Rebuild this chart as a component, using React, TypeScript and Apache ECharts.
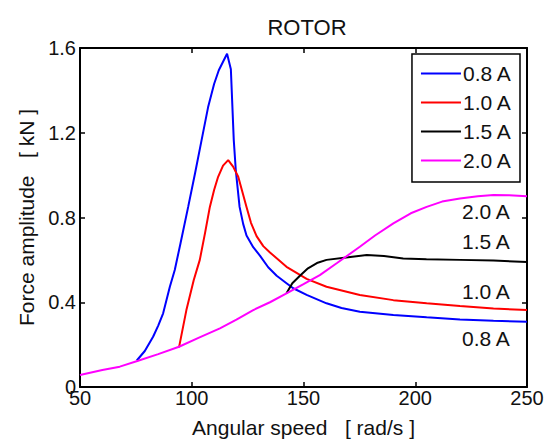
import React, { useEffect, useRef } from "react";
import * as echarts from "echarts";

const seriesNames = ["0.8 A", "1.0 A", "1.5 A", "2.0 A"];
const seriesColors = ["#0000ff", "#ff0000", "#000000", "#ff00ff"];

const blue08: number[][] = [
  [75.4, 0.125], [79, 0.17], [82.7, 0.237], [85, 0.29], [87.2, 0.348], [90.2, 0.473],
  [92.4, 0.552], [95, 0.68], [98.4, 0.85], [101.5, 1.01], [104.4, 1.165], [107.3, 1.32],
  [110, 1.43], [112.1, 1.495], [114, 1.535], [115.8, 1.573], [117.5, 1.5], [118.8, 1.165],
  [119.7, 1.024], [121.4, 0.85], [123, 0.77], [124.5, 0.715], [127.5, 0.66], [130.5, 0.62],
  [134.2, 0.565], [138, 0.525], [142.4, 0.49], [145.4, 0.466], [151.4, 0.435], [160.3, 0.395],
  [167, 0.373], [175.2, 0.355], [190.2, 0.34], [205.1, 0.329], [220, 0.319], [235, 0.313],
  [250, 0.308],
];

const red10: number[][] = [
  [94.3, 0.187], [97.6, 0.363], [100.9, 0.505], [103.6, 0.6], [106, 0.73], [108.1, 0.85],
  [110, 0.93], [111.8, 0.992], [114, 1.045], [116.3, 1.071], [118.5, 1.04], [120.8, 0.992],
  [124.5, 0.85], [126.5, 0.775], [129, 0.712], [132, 0.665], [135, 0.635], [142.4, 0.567],
  [145.4, 0.548], [151.4, 0.51], [160.3, 0.473], [175.2, 0.434], [190.2, 0.41], [205.1, 0.395],
  [220, 0.382], [235, 0.371], [250, 0.363],
];

const black15: number[][] = [
  [142.4, 0.442], [145, 0.49], [148.4, 0.525], [152, 0.56], [156, 0.585], [160.3, 0.6],
  [170, 0.612], [178.3, 0.623], [186, 0.618], [194.6, 0.607], [205, 0.603], [220, 0.6],
  [235, 0.597], [250, 0.59],
];

const magenta20: number[][] = [
  [50, 0.057], [60, 0.08], [67.8, 0.096], [76, 0.124], [85, 0.155], [94.3, 0.19],
  [103, 0.232], [112.6, 0.277], [120, 0.318], [127.5, 0.363], [135, 0.4], [142.4, 0.442],
  [150, 0.485], [157.3, 0.528], [165, 0.585], [175.2, 0.662], [182, 0.715], [190.2, 0.772],
  [198, 0.82], [205.1, 0.85], [212, 0.875], [220, 0.89], [228, 0.9], [235, 0.906],
  [242, 0.905], [250, 0.9],
];

const seriesData = [blue08, red10, black15, magenta20];

const xTicks = { min: 50, max: 250, interval: 50 };
const yTicks = { min: 0, max: 1.6, interval: 0.4 };

const annotations = ["2.0 A", "1.5 A", "1.0 A", "0.8 A"];
const annotationY = [212, 242, 292, 339];

const FONT = "'Liberation Sans', Arial, Helvetica, sans-serif";

export default function App() {
  const ref = useRef<HTMLDivElement>(null);
  useEffect(() => {
    document.body.style.margin = "0";
    if (!ref.current) return;
    const chart = echarts.init(ref.current, undefined, { renderer: "svg" });
    const axisCommon = {
      axisLine: { show: true, onZero: false, lineStyle: { color: "#000", width: 2 } },
      axisTick: { show: true, inside: true, length: 5, lineStyle: { color: "#000", width: 1.5 } },
      splitLine: { show: false },
    };
    chart.setOption({
      animation: false,
      backgroundColor: "#fff",
      textStyle: { fontFamily: FONT },
      title: {
        text: "ROTOR",
        left: 302,
        textAlign: "center",
        top: 11,
        textStyle: { fontFamily: FONT, fontSize: 22, fontWeight: "normal", color: "#111" },
      },
      grid: { left: 80, right: 26, top: 48, bottom: 57, containLabel: false },
      legend: {
        data: seriesNames,
        orient: "vertical",
        right: 33,
        top: 54,
        icon: "rect",
        itemWidth: 40,
        itemHeight: 2,
        itemGap: 8,
        padding: [9, 8, 11, 9],
        borderColor: "#000",
        borderWidth: 1.5,
        borderRadius: 0,
        backgroundColor: "#fff",
        textStyle: { fontFamily: FONT, fontSize: 21, lineHeight: 20, color: "#111", padding: [0, 0, 0, -3] },
      },
      xAxis: [
        {
          type: "value",
          ...xTicks,
          ...axisCommon,
          name: "Angular speed   [ rad/s ]",
          nameLocation: "middle",
          nameGap: 30,
          nameTextStyle: { fontFamily: FONT, fontSize: 21, color: "#111" },
          axisLabel: { fontFamily: FONT, fontSize: 20, color: "#111", margin: 1 },
        },
        {
          type: "value",
          position: "top",
          ...xTicks,
          ...axisCommon,
          axisLabel: { show: false },
        },
      ],
      yAxis: [
        {
          type: "value",
          ...yTicks,
          ...axisCommon,
          name: "Force amplitude   [ kN ]",
          nameLocation: "middle",
          nameGap: 43,
          nameTextStyle: { fontFamily: FONT, fontSize: 21, color: "#111" },
          axisLabel: {
            fontFamily: FONT,
            fontSize: 20,
            color: "#111",
            margin: 4,
            formatter: (v: number) => (v === 0 ? "0" : v.toFixed(1)),
          },
        },
        {
          type: "value",
          position: "right",
          ...yTicks,
          ...axisCommon,
          axisLabel: { show: false },
        },
      ],
      series: seriesNames.map((name, i) => ({
        name,
        type: "line",
        data: seriesData[i],
        symbol: "none",
        showSymbol: false,
        lineStyle: { color: seriesColors[i], width: 2 },
        itemStyle: { color: seriesColors[i] },
        z: i === 3 ? 5 : 3,
      })),
      graphic: annotations.map((t, i) => ({
        type: "text",
        left: 462,
        top: annotationY[i] - 11,
        z: 10,
        style: { text: t, font: `21px ${FONT}`, fill: "#111" },
      })),
    });
    return () => chart.dispose();
  }, []);
  return <div ref={ref} style={{ width: 553, height: 444 }} />;
}
